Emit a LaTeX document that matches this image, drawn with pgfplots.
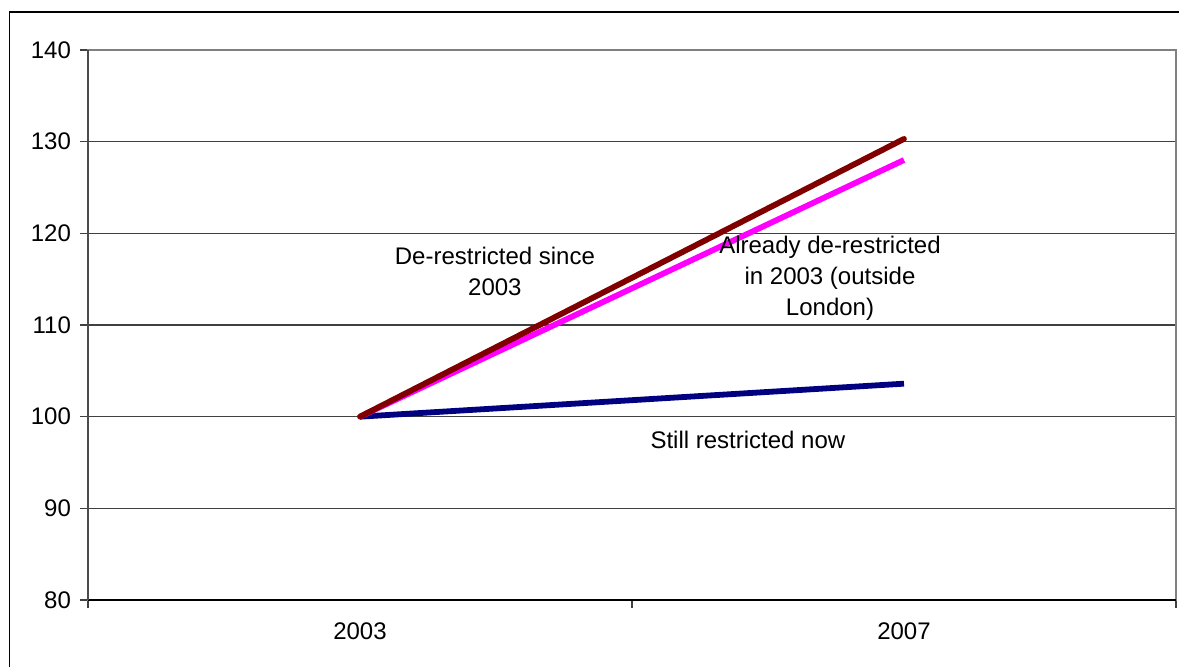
\documentclass[border=0pt]{standalone}
\usepackage{pgfplots}
\pgfplotsset{compat=1.18}
\usepackage{fontspec}
\setmainfont{Liberation Sans}
\definecolor{darkred}{RGB}{128,0,0}
\definecolor{navyb}{RGB}{0,0,128}
\definecolor{magen}{RGB}{255,0,255}
\begin{document}
\begin{tikzpicture}
\useasboundingbox (0pt,0pt) rectangle (589.5pt,333pt);
\draw[black, line width=0.9pt] (4.75pt,-10pt) -- (4.75pt,327pt) -- (600pt,327pt);
\begin{axis}[
  at={(44pt,33pt)}, anchor=south west,
  scale only axis, width=544pt, height=275pt,
  xmin=-0.5, xmax=1.5, ymin=80, ymax=140,
  ytick={80,90,...,140},
  xtick={-0.5,0.5,1.5}, xticklabels={},
  extra x ticks={0,1}, extra x tick labels={2003,2007},
  extra x tick style={major tick length=0pt, tick label style={yshift=-8pt}},
  xtick pos=bottom, ytick pos=left,
  ymajorgrids, grid style={black!75, line width=0.6pt},
  tick align=outside, major tick length=4pt,
  tick style={black!75, line width=0.6pt},
  axis line style={black!50, line width=0.8pt},
  /pgf/number format/assume math mode=true,
  every tick label/.append style={font=\fontsize{12}{14}\selectfont},
  yticklabel style={xshift=-1pt},
  clip=false,
]
\addplot[navyb, line width=2.9pt] coordinates {(0,100) (1,103.6)};
\addplot[magen, line width=2.9pt] coordinates {(0,100) (1,128.0)};
\addplot[darkred, line width=2.9pt, line cap=round] coordinates {(0,100) (1,130.3)};
\draw[black, line width=0.8pt] (axis cs:-0.5,80) -- (axis cs:1.5,80);
\draw[black!70, line width=0.8pt] (axis cs:-0.5,80) -- (axis cs:-0.5,140);
\node[align=center, font=\fontsize{12}{15.5}\selectfont] at (axis cs:0.248,115.8) {De-restricted since\\2003};
\node[align=center, font=\fontsize{12}{15.5}\selectfont] at (axis cs:0.864,115.1) {Already de-restricted\\in 2003 (outside\\London)};
\node[align=center, font=\fontsize{12}{15.5}\selectfont] at (axis cs:0.713,97.5) {Still restricted now};
\end{axis}
\end{tikzpicture}
\end{document}
